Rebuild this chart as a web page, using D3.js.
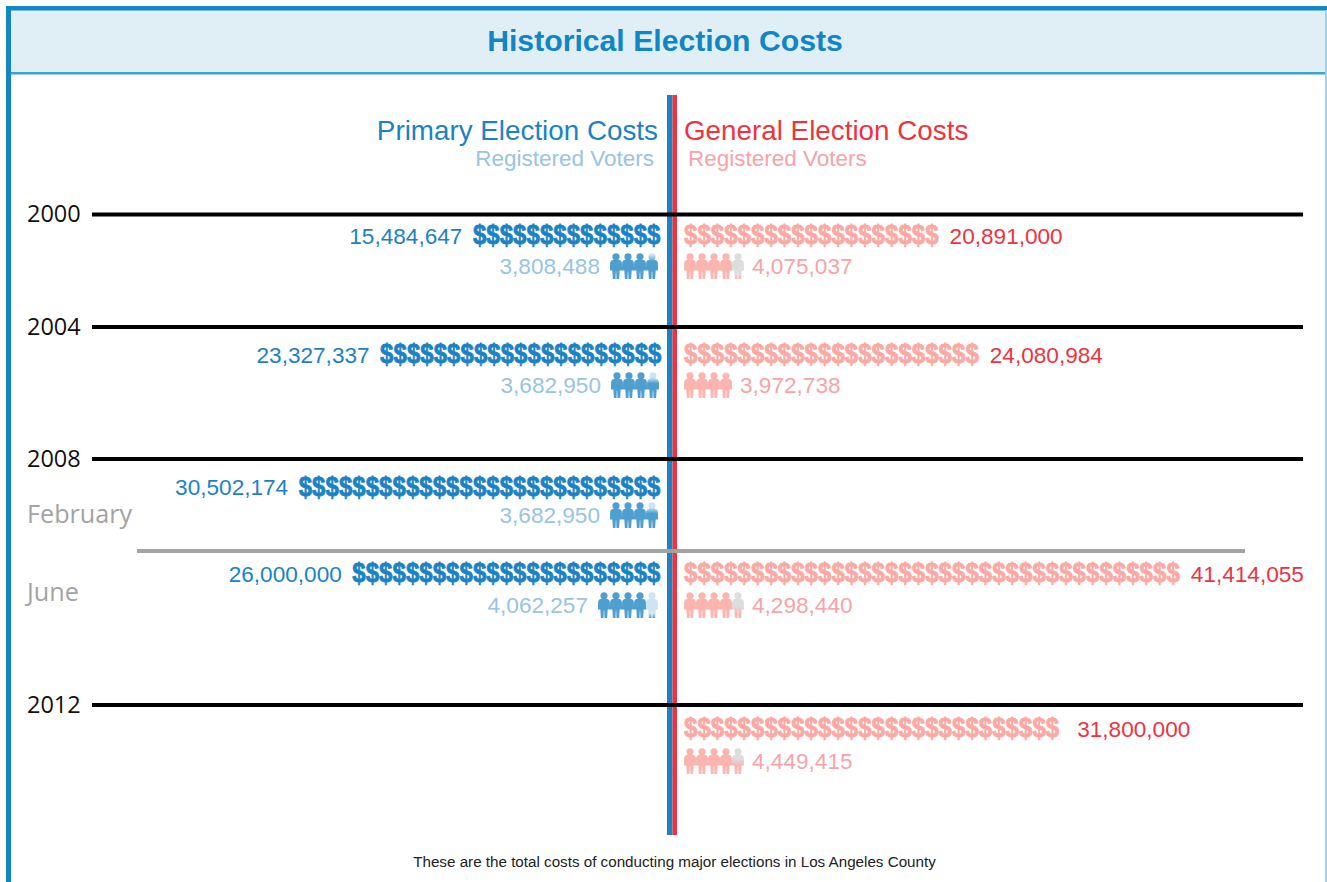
<!DOCTYPE html>
<html><head><meta charset="utf-8">
<script src="https://cdn.jsdelivr.net/npm/d3@7"></script>
<style>html,body{margin:0;padding:0;background:#fff;overflow:hidden}svg{display:block}</style>
</head><body><svg id="c" width="1327" height="882"></svg>
<script>
// ---- data ----
const chartTitle = "Historical Election Costs";
const footnote = "These are the total costs of conducting major elections in Los Angeles County";
const years = ["2000", "2004", "2008", "2012"];
const months = ["February", "June"];
const rowNames = ["2000", "2004", "2008 February", "2008 June", "2012"];
const primaryCosts  = [15484647, 23327337, 30502174, 26000000, null];
const primaryVoters = [3808488, 3682950, 3682950, 4062257, null];
const generalCosts  = [20891000, 24080984, null, 41414055, 31800000];
const generalVoters = [4075037, 3972738, null, 4298440, 4449415];
const primaryDollarIcons = [14, 21, 27, 23, 0];
const generalDollarIcons = [19, 22, 0, 37, 28];

// ---- layout ----
const W = 1327, H = 882;
const svg = d3.select("#c");
const defs = svg.append("defs");
const C = {border:"#1185c6", band:"#e0eff6", blue:"#1b82c4", blueLt:"#97c5e3", blueIcon:"#4f9ed0", blueEmpty:"#cfe4f2",
           red:"#ee3340", redLt:"#f7a3a8", redIcon:"#fbb4ae", redEmpty:"#dedcdc", dollarRed:"#fca8a3", grey:"#a3a3a3"};
const SANS = "'Liberation Sans',Arial,sans-serif", HUM = "'Open Sans',sans-serif";

const yearY = d3.scaleOrdinal(years, [214.5, 327, 459, 705]);
const monthY = d3.scaleOrdinal(months, [522.5, 600.5]);
const dollarY = d3.scaleOrdinal(rowNames, [243, 362, 494.5, 581, 736]);
const voterY = d3.scaleOrdinal(rowNames, [253, 372, 502, 592, 748]);
const voterTextY = d3.scaleOrdinal(rowNames, [274, 393, 523, 613, 769]);
const rightRowNudge = d3.scaleOrdinal(rowNames, [0, 0, 0, 0, 7]);
const leftEnd = d3.scaleOrdinal(rowNames, [660, 661, 660, 660, 660]);
const dollarStep = 13.4, personStep = 12;
const dollarsR = d3.scaleLinear().domain([0, 1]).range([684, 684 + dollarStep]);
const peopleR = d3.scaleLinear().domain([0, 1]).range([684, 684 + personStep]);

// frame
svg.append("rect").attr("x",11).attr("y",9).attr("width",W-11).attr("height",64).attr("fill",C.band);
svg.append("rect").attr("x",6).attr("y",6).attr("width",W-6).attr("height",4.5).attr("fill",C.border);
svg.append("rect").attr("x",6).attr("y",72).attr("width",W-6).attr("height",2.5).attr("fill","#3f9fd3");
svg.append("rect").attr("x",6).attr("y",6).attr("width",5).attr("height",H-6).attr("fill",C.border);
svg.append("rect").attr("x",W-2).attr("y",10).attr("width",2).attr("height",H-10).attr("fill","#9fd0ec");
svg.append("text").attr("x",665).attr("y",50.5).attr("text-anchor","middle").attr("font-family",SANS)
   .attr("font-weight",700).attr("font-size",30.2).attr("fill",C.border).text(chartTitle);

// centre spine
svg.append("rect").attr("x",667).attr("y",95).attr("width",5.5).attr("height",740).attr("fill",C.blue);
svg.append("rect").attr("x",672.5).attr("y",95).attr("width",4.5).attr("height",740).attr("fill",C.red);

// column headers
const hdr = [["Primary Election Costs",658,139.5,"end",C.blue,27.8],["General Election Costs",684,139.5,"start",C.red,27.8],
             ["Registered Voters",654,166,"end",C.blueLt,22.5],["Registered Voters",688,166,"start",C.redLt,22.5]];
svg.selectAll("text.h").data(hdr).join("text").attr("class","h").attr("x",d=>d[1]).attr("y",d=>d[2])
   .attr("text-anchor",d=>d[3]).attr("fill",d=>d[4]).attr("font-size",d=>d[5]).attr("font-family",SANS).text(d=>d[0]);

// year rules
svg.selectAll("line.y").data(years).join("line").attr("class","y").attr("x1",92).attr("x2",1303)
   .attr("y1",yearY).attr("y2",yearY).attr("stroke","#000").attr("stroke-width",4);
svg.append("line").attr("x1",137).attr("x2",1245).attr("y1",551).attr("y2",551).attr("stroke",C.grey).attr("stroke-width",4);
svg.selectAll("text.yl").data(years).join("text").attr("class","yl").attr("x",27).attr("y",d=>yearY(d)+7.5)
   .attr("font-family",HUM).attr("font-size",23.5).attr("fill","#111").text(d=>d);
svg.selectAll("text.ml").data(months).join("text").attr("class","ml").attr("x",27).attr("y",monthY)
   .attr("font-family",HUM).attr("font-size",25.2).attr("fill",C.grey).text(d=>d);

// person pictogram, unit box 12 x 26
function personPath(){
  const p = d3.path();
  p.moveTo(9.6,3.8); p.arc(6,3.8,3.6,0,2*Math.PI);
  p.moveTo(3,7); p.lineTo(9,7); p.quadraticCurveTo(11.7,7.4,11.9,10.5); p.lineTo(12,17.5);
  p.lineTo(9.7,17.5); p.lineTo(9.1,26); p.lineTo(6.5,26); p.lineTo(6.2,18.5);
  p.lineTo(5.8,18.5); p.lineTo(5.5,26); p.lineTo(2.9,26); p.lineTo(2.3,17.5);
  p.lineTo(0,17.5); p.lineTo(0.1,10.5);
  p.quadraticCurveTo(0.3,7.4,3,7); p.closePath();
  return p.toString();
}
const personD = personPath();
let gid = 0;
function drawPeople(x0, y, value, full, empty){
  const n = Math.ceil(value/1e6);
  d3.range(n).forEach(i=>{
    const frac = Math.min(1, value/1e6 - i);
    let fill = full;
    if (frac < 1){
      const id = "g"+(gid++);
      const g = defs.append("linearGradient").attr("id",id).attr("x1",0).attr("x2",0).attr("y1",1).attr("y2",0);
      [[0,full],[Math.max(0,frac-0.12),full],[Math.min(1,frac+0.12),empty],[1,empty]].forEach(s=>
        g.append("stop").attr("offset",s[0]).attr("stop-color",s[1]));
      fill = `url(#${id})`;
    }
    svg.append("path").attr("d",personD).attr("fill",fill)
       .attr("transform",`translate(${x0+peopleR(i)-peopleR(0)},${y})`);
  });
  return n*personStep;
}
function drawDollars(x0, y, n, color){
  svg.append("g").selectAll("text").data(d3.range(n)).join("text")
     .attr("transform",i=>`translate(${x0+dollarsR(i)-dollarsR(0)},${y}) scale(.84,1)`)
     .attr("font-family",SANS).attr("font-weight",700).attr("font-size",28.5).attr("fill",color)
     .attr("stroke",color).attr("stroke-width",0.8).text("$");
}
const fmt = d3.format(",");
function label(x,y,anchor,color,v){
  svg.append("text").attr("x",x).attr("y",y).attr("text-anchor",anchor).attr("font-family",SANS)
     .attr("font-size",22.6).attr("fill",color).text(fmt(v));
}

rowNames.forEach((r,k)=>{
  if (primaryCosts[k]!=null){
    const end = leftEnd(r), w = primaryDollarIcons[k]*dollarStep;
    drawDollars(end-w+0.5, dollarY(r)+1, primaryDollarIcons[k], C.blue);
    label(end-w-10, dollarY(r)+0.5, "end", C.blue, primaryCosts[k]);
    const pw = Math.ceil(primaryVoters[k]/1e6)*personStep;
    drawPeople(end-2-pw, voterY(r), primaryVoters[k], C.blueIcon, C.blueEmpty);
    label(end-2-pw-10, voterTextY(r), "end", C.blueLt, primaryVoters[k]);
  }
  if (generalCosts[k]!=null){
    const w = generalDollarIcons[k]*dollarStep;
    drawDollars(dollarsR(0), dollarY(r)+1, generalDollarIcons[k], C.dollarRed);
    label(dollarsR(0)+w+11+rightRowNudge(r), dollarY(r)+0.5, "start", C.red, generalCosts[k]);
    const pw = drawPeople(peopleR(0), voterY(r), generalVoters[k], C.redIcon, C.redEmpty);
    label(peopleR(0)+pw+8, voterTextY(r), "start", C.redLt, generalVoters[k]);
  }
});

svg.append("text").attr("x",674.5).attr("y",867).attr("text-anchor","middle").attr("font-family",SANS)
   .attr("font-size",15.2).attr("fill","#222").text(footnote);
</script></body></html>
